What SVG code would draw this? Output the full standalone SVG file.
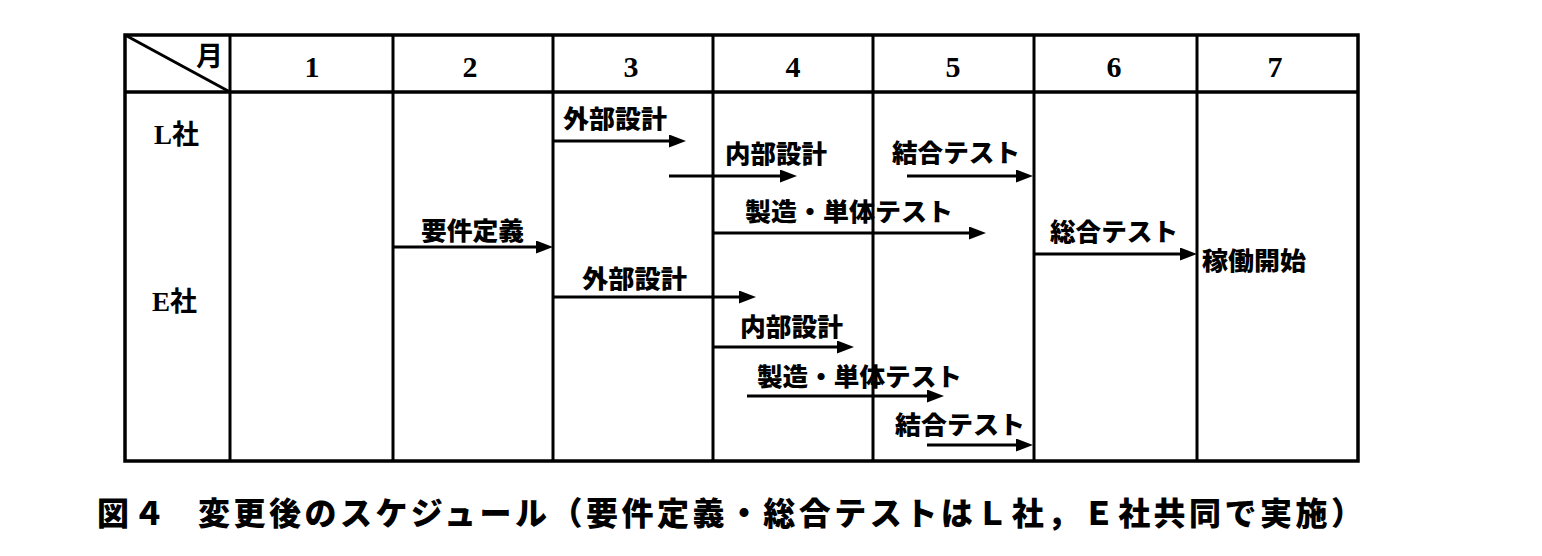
<svg xmlns="http://www.w3.org/2000/svg" width="1542" height="556" viewBox="0 0 1542 556">
  <style>
    .grid { stroke: #000; stroke-width: 3; fill: none; }
    .outer { stroke: #000; stroke-width: 3.5; fill: none; }
    .arrow { stroke: #000; stroke-width: 3; fill: none; marker-end: url(#ah); }
    .lbl { font-family: "Noto Sans CJK JP", sans-serif; font-weight: 900; font-size: 25px; fill: #000; }
    .num { font-family: "Liberation Serif", serif; font-weight: 700; font-size: 30px; fill: #000; text-anchor: middle; }
    .row { font-family: "Liberation Serif", "Noto Sans CJK JP", serif; font-weight: 700; font-size: 27px; fill: #000; }
    .cap { font-family: "Noto Sans CJK JP", sans-serif; font-weight: 900; font-size: 32px; fill: #000; }
  </style>
  <defs>
    <marker id="ah" markerUnits="userSpaceOnUse" markerWidth="17" markerHeight="13" refX="6" refY="6.5" orient="auto">
      <path d="M0,0 L17,6.5 L0,13 Z" fill="#000"/>
    </marker>
  </defs>
  <rect width="1542" height="556" fill="#fff"/>

  <g id="table">
    <rect class="outer" x="125" y="35" width="1233" height="426"/>
    <line class="outer" x1="125" y1="92" x2="1358" y2="92"/>
    <line class="grid" x1="125" y1="35" x2="230" y2="92"/>
    <line class="grid" x1="230" y1="35" x2="230" y2="461"/>
    <line class="grid" x1="393" y1="35" x2="393" y2="461"/>
    <line class="grid" x1="553" y1="35" x2="553" y2="461"/>
    <line class="grid" x1="713" y1="35" x2="713" y2="461"/>
    <line class="grid" x1="873" y1="35" x2="873" y2="461"/>
    <line class="grid" x1="1034" y1="35" x2="1034" y2="461"/>
    <line class="grid" x1="1197" y1="35" x2="1197" y2="461"/>
  </g>

  <g id="header">
    <text class="row" x="196" y="66" font-size="20">月</text>
    <text class="num" x="312" y="77">1</text>
    <text class="num" x="470" y="77">2</text>
    <text class="num" x="631" y="77">3</text>
    <text class="num" x="793" y="77">4</text>
    <text class="num" x="953" y="77">5</text>
    <text class="num" x="1114" y="77">6</text>
    <text class="num" x="1275" y="77">7</text>
  </g>

  <g id="rows">
    <text class="row" x="154" y="144">L社</text>
    <text class="row" x="152" y="311">E社</text>
  </g>

  <g id="connectors">
    <line class="arrow" x1="553" y1="141" x2="675" y2="141"/>
    <line class="arrow" x1="669" y1="176" x2="786" y2="176"/>
    <line class="arrow" x1="907" y1="176" x2="1022" y2="176"/>
    <line class="arrow" x1="713" y1="233" x2="975" y2="233"/>
    <line class="arrow" x1="393" y1="247" x2="542" y2="247"/>
    <line class="arrow" x1="1034" y1="254" x2="1186" y2="254"/>
    <line class="arrow" x1="553" y1="297" x2="745" y2="297"/>
    <line class="arrow" x1="713" y1="347" x2="843" y2="347"/>
    <line class="arrow" x1="747" y1="396" x2="933" y2="396"/>
    <line class="arrow" x1="927" y1="445" x2="1022" y2="445"/>
  </g>

  <g id="L-gaibu"><text class="lbl" x="563" y="128" textLength="104" lengthAdjust="spacingAndGlyphs">外部設計</text></g>
  <g id="L-naibu"><text class="lbl" x="725" y="163" textLength="102" lengthAdjust="spacingAndGlyphs">内部設計</text></g>
  <g id="L-ketsugo"><text class="lbl" x="892" y="162" textLength="128" lengthAdjust="spacingAndGlyphs">結合テスト</text></g>
  <g id="L-seizo"><text class="lbl" x="745" y="221" textLength="208" lengthAdjust="spacingAndGlyphs">製造・単体テスト</text></g>
  <g id="yoken"><text class="lbl" x="421" y="240" textLength="103" lengthAdjust="spacingAndGlyphs">要件定義</text></g>
  <g id="sogo"><text class="lbl" x="1050" y="241" textLength="128" lengthAdjust="spacingAndGlyphs">総合テスト</text></g>
  <g id="kado"><text class="lbl" x="1202" y="270" textLength="104" lengthAdjust="spacingAndGlyphs">稼働開始</text></g>
  <g id="E-gaibu"><text class="lbl" x="582" y="288" textLength="105" lengthAdjust="spacingAndGlyphs">外部設計</text></g>
  <g id="E-naibu"><text class="lbl" x="740" y="336" textLength="103" lengthAdjust="spacingAndGlyphs">内部設計</text></g>
  <g id="E-seizo"><text class="lbl" x="757" y="386" textLength="205" lengthAdjust="spacingAndGlyphs">製造・単体テスト</text></g>
  <g id="E-ketsugo"><text class="lbl" x="895" y="434" textLength="130" lengthAdjust="spacingAndGlyphs">結合テスト</text></g>

  <g id="caption">
    <text class="cap" x="97" y="525">図</text>
    <text class="cap" x="133" y="525">４</text>
    <text class="cap" x="198" y="525" textLength="1165" lengthAdjust="spacing">変更後のスケジュール（要件定義・総合テストはＬ社，Ｅ社共同で実施）</text>
  </g>
</svg>
